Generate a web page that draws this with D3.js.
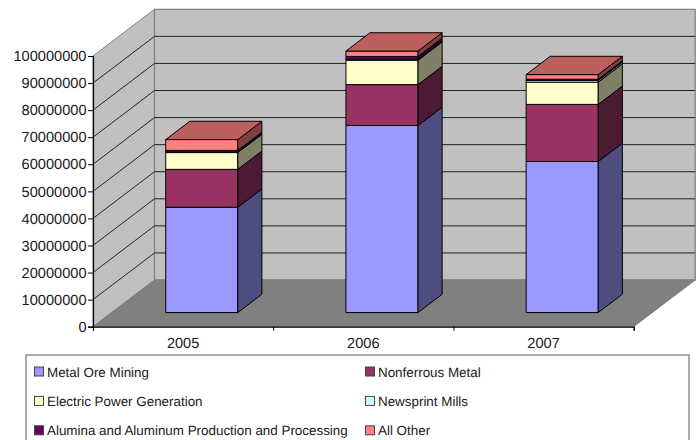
<!DOCTYPE html>
<html>
<head>
<meta charset="utf-8">
<script src="https://cdn.jsdelivr.net/npm/d3@7"></script>
<style>
html, body { margin: 0; padding: 0; background: #fff; overflow: hidden; }
text { font-family: "Liberation Sans", Arial, sans-serif; fill: #1a1a1a; text-rendering: geometricPrecision; }
</style>
</head>
<body>
<svg id="chart" width="698" height="440"></svg>
<script>
var years = ["2005", "2006", "2007"];
var metalOre = [38900000, 69100000, 55800000];
var nonferrous = [14000000, 15100000, 21100000];
var electricPower = [6200000, 9000000, 8200000];
var newsprint = [200000, 400000, 700000];
var alumina = [600000, 1000000, 400000];
var allOther = [4000000, 2000000, 1700000];
var seriesNames = ["Metal Ore Mining", "Nonferrous Metal", "Electric Power Generation", "Newsprint Mills", "Alumina and Aluminum Production and Processing", "All Other"];
var seriesValues = [metalOre, nonferrous, electricPower, newsprint, alumina, allOther];
var seriesColors = ["#9999ff", "#993366", "#ffffcc", "#ccffff", "#660066", "#ff8080"];

var svg = d3.select("#chart");

// front plane of the box
var left = 93, right = 633.7, bottom = 326.7, top100 = 56;
var depthX = 61.5, depthY = -46.7; // offset of back wall from front plane

var yScale = d3.scaleLinear().domain([0, 100000000]).range([bottom, top100]);
var xScale = d3.scaleBand().domain(years).range([left, right]);
var tickScale = d3.scaleLinear().domain([0, years.length]).range([left, right]);

// oblique projection, d = 0 front plane, d = 1 back wall
function px(x, d) { return x + depthX * d; }
function py(y, d) { return y + depthY * d; }
function poly(points) { return points.map(function (p) { return p.join(","); }).join(" "); }

var walls = svg.append("g");
walls.append("polygon") // side wall
    .attr("points", poly([[left, bottom], [left, top100], [px(left, 1), py(top100, 1)], [px(left, 1), py(bottom, 1)]]))
    .attr("fill", "#c0c0c0").attr("stroke", "#808080").attr("stroke-width", 1);
walls.append("polygon") // back wall
    .attr("points", poly([[px(left, 1), py(top100, 1)], [px(right, 1), py(top100, 1)], [px(right, 1), py(bottom, 1)], [px(left, 1), py(bottom, 1)]]))
    .attr("fill", "#c0c0c0").attr("stroke", "#808080").attr("stroke-width", 1.3);
walls.append("polygon") // floor
    .attr("points", poly([[left, bottom], [right, bottom], [px(right, 1), py(bottom, 1)], [px(left, 1), py(bottom, 1)]]))
    .attr("fill", "#808080").attr("stroke", "#808080").attr("stroke-width", 1);

// gridlines on both walls
var gridValues = yScale.ticks(10).filter(function (v) { return v > 0 && v < 100000000; });
walls.selectAll(".grid")
    .data(gridValues)
    .enter()
    .append("polyline")
    .attr("class", "grid")
    .attr("fill", "none")
    .attr("stroke", "#222")
    .attr("stroke-width", 1)
    .attr("points", function (v) {
        return poly([[left, yScale(v)], [px(left, 1), py(yScale(v), 1)], [px(right, 1), py(yScale(v), 1)]]);
    });

// stacked columns
var stack = d3.stack().keys(d3.range(seriesNames.length)).value(function (row, k) { return row[k]; });
var rows = years.map(function (y, i) { return seriesValues.map(function (s) { return s[i]; }); });
var stacked = stack(rows);

var barD0 = 0.303, barD1 = 0.695; // depth of the column inside the box
var barWidth = xScale.bandwidth() * 0.4;

function shade(color, k) {
    var c = d3.rgb(color);
    return d3.rgb(c.r * k, c.g * k, c.b * k).formatHex();
}

years.forEach(function (year, i) {
    var x0 = xScale(year) + (xScale.bandwidth() - barWidth) / 2;
    var x1 = x0 + barWidth;
    var g = svg.append("g").attr("class", "column");
    stacked.forEach(function (layer, s) {
        var y0 = yScale(layer[i][0]), y1 = yScale(layer[i][1]);
        var color = seriesColors[s];
        g.append("polygon") // front
            .attr("points", poly([[px(x0, barD0), py(y0, barD0)], [px(x1, barD0), py(y0, barD0)], [px(x1, barD0), py(y1, barD0)], [px(x0, barD0), py(y1, barD0)]]))
            .attr("fill", color).attr("stroke", "#000").attr("stroke-width", 1);
        g.append("polygon") // side
            .attr("points", poly([[px(x1, barD0), py(y0, barD0)], [px(x1, barD1), py(y0, barD1)], [px(x1, barD1), py(y1, barD1)], [px(x1, barD0), py(y1, barD0)]]))
            .attr("fill", shade(color, 0.5)).attr("stroke", "#000").attr("stroke-width", 1);
        if (s === stacked.length - 1) {
            g.append("polygon") // top of the column
                .attr("points", poly([[px(x0, barD0), py(y1, barD0)], [px(x1, barD0), py(y1, barD0)], [px(x1, barD1), py(y1, barD1)], [px(x0, barD1), py(y1, barD1)]]))
                .attr("fill", shade(color, 0.74)).attr("stroke", "#000").attr("stroke-width", 1);
        }
    });
});

// axes
var leftAxis = d3.axisLeft(yScale).ticks(10).tickSize(5).tickPadding(1.5).tickFormat(d3.format("d"));
var yAxis = svg.append("g").attr("transform", "translate(" + left + ",0)").call(leftAxis);
yAxis.select(".domain").attr("stroke", "#000").attr("stroke-width", 1.2);
yAxis.selectAll("line").attr("stroke", "#000");
yAxis.selectAll("text").style("font-size", "14.6px").attr("font-family", null);

var tickAxis = d3.axisBottom(tickScale).ticks(years.length).tickSize(4).tickFormat("");
var xTicks = svg.append("g").attr("transform", "translate(0," + bottom + ")").call(tickAxis);
xTicks.select(".domain").attr("stroke", "#000").attr("stroke-width", 1.2);
xTicks.selectAll("line").attr("stroke", "#000");

var labelAxis = d3.axisBottom(xScale).tickSize(0).tickPadding(10.5);
var xLabels = svg.append("g").attr("transform", "translate(0," + bottom + ")").call(labelAxis);
xLabels.select(".domain").remove();
xLabels.selectAll("text").style("font-size", "14.6px").attr("font-family", null);

// legend, its lower edge is cut off by the picture
var legend = svg.append("g");
legend.append("rect")
    .attr("x", 26).attr("y", 355).attr("width", 663).attr("height", 100)
    .attr("fill", "#fff").attr("stroke", "#808080").attr("stroke-width", 1.3);

var legendItems = legend.selectAll(".item")
    .data(seriesNames)
    .enter()
    .append("g")
    .attr("class", "item")
    .attr("transform", function (d, i) {
        return "translate(" + (i % 2 === 0 ? 34.5 : 365.5) + "," + (371.5 + 29.4 * Math.floor(i / 2)) + ")";
    });
legendItems.append("rect")
    .attr("x", 0).attr("y", -4.5).attr("width", 9).attr("height", 9)
    .attr("fill", function (d, i) { return seriesColors[i]; })
    .attr("stroke", "#444").attr("stroke-width", 1);
legendItems.append("text")
    .attr("x", 12.5).attr("y", 5)
    .style("font-size", "13.4px")
    .text(function (d) { return d; });
</script>
</body>
</html>
